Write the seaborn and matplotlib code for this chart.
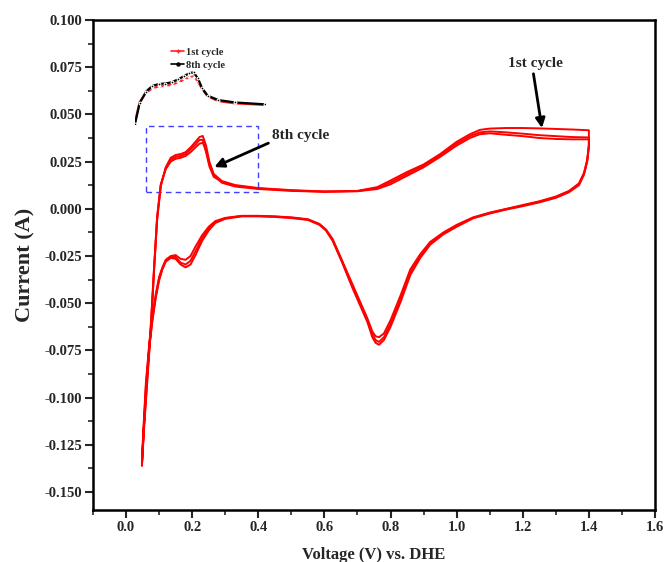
import matplotlib
matplotlib.use("Agg")
import matplotlib.pyplot as plt
import matplotlib.patches as patches
from matplotlib.lines import Line2D
from matplotlib.ticker import MultipleLocator, FormatStrFormatter
import numpy as np
import pandas as pd
import seaborn as sns

# Potential grid of the forward (anodic) sweep, V vs. DHE
anodic_v = [0.048, 0.055, 0.064, 0.076, 0.085, 0.094, 0.105, 0.12, 0.135, 0.15,
            0.165, 0.18, 0.195, 0.21, 0.222, 0.232, 0.242, 0.252, 0.265, 0.29,
            0.33, 0.40, 0.50, 0.60, 0.70, 0.76, 0.80, 0.85, 0.90, 0.95,
            1.00, 1.04, 1.07, 1.10, 1.15, 1.20, 1.25, 1.30, 1.35, 1.40]

# Potential grid of the reverse (cathodic) sweep
cathodic_v = [1.40, 1.395, 1.385, 1.37, 1.34, 1.30, 1.25, 1.20, 1.15, 1.10,
              1.05, 1.00, 0.96, 0.92, 0.89, 0.86, 0.83, 0.80, 0.78, 0.765,
              0.755, 0.745, 0.73, 0.715, 0.70, 0.685, 0.67, 0.655, 0.64, 0.625,
              0.605, 0.585, 0.55, 0.50, 0.45, 0.40, 0.35, 0.30, 0.27, 0.25,
              0.23, 0.21, 0.195, 0.18, 0.165, 0.15, 0.135, 0.12, 0.11, 0.10,
              0.09, 0.08, 0.07, 0.06, 0.052, 0.048]

# Currents (A), cycle 1
c1_anodic = [-0.134, -0.112, -0.089, -0.058, -0.030, -0.004, 0.013, 0.021, 0.025, 0.0265,
             0.027, 0.028, 0.030, 0.0325, 0.0345, 0.035, 0.031, 0.024, 0.018, 0.0138,
             0.0118, 0.0105, 0.0095, 0.009, 0.0095, 0.0115, 0.015, 0.0195, 0.0235, 0.029,
             0.0355, 0.0395, 0.0418, 0.0425, 0.0428, 0.0428, 0.0426, 0.0423, 0.042, 0.0416]
c1_cathodic = [0.034, 0.026, 0.019, 0.0135, 0.0095, 0.0065, 0.004, 0.002, 0.0, -0.002,
               -0.0045, -0.0085, -0.0125, -0.0175, -0.024, -0.032, -0.046, -0.059, -0.066, -0.068,
               -0.0675, -0.065, -0.058, -0.052, -0.046, -0.040, -0.034, -0.028, -0.022, -0.016,
               -0.011, -0.008, -0.0055, -0.0045, -0.004, -0.0037, -0.0037, -0.0048, -0.0065, -0.0095,
               -0.014, -0.020, -0.025, -0.027, -0.0265, -0.0245, -0.025, -0.027, -0.031, -0.036,
               -0.045, -0.057, -0.072, -0.092, -0.118, -0.134]

# Currents (A), cycle 4
c4_anodic = [-0.135, -0.113, -0.090, -0.060, -0.031, -0.005, 0.0125, 0.0215, 0.026, 0.0275,
             0.028, 0.029, 0.0315, 0.034, 0.0365, 0.0365, 0.030, 0.0225, 0.017, 0.0142,
             0.0122, 0.0108, 0.0097, 0.0091, 0.0094, 0.011, 0.014, 0.0185, 0.0228, 0.0283,
             0.0345, 0.0385, 0.0405, 0.041, 0.0405, 0.0398, 0.039, 0.0385, 0.038, 0.0378]
c4_cathodic = [0.0335, 0.0255, 0.0185, 0.013, 0.0092, 0.0062, 0.0037, 0.0017, -0.0002, -0.0022,
               -0.0048, -0.009, -0.013, -0.0182, -0.025, -0.0335, -0.048, -0.061, -0.068, -0.0705,
               -0.0695, -0.0665, -0.059, -0.053, -0.047, -0.041, -0.035, -0.0285, -0.0225, -0.0165,
               -0.0113, -0.0082, -0.0057, -0.0047, -0.0041, -0.0038, -0.0038, -0.005, -0.007, -0.0105,
               -0.0155, -0.0225, -0.0275, -0.0295, -0.0285, -0.0255, -0.0255, -0.0275, -0.0315, -0.037,
               -0.046, -0.058, -0.073, -0.094, -0.120, -0.135]

# Currents (A), cycle 8
c8_anodic = [-0.136, -0.115, -0.092, -0.061, -0.032, -0.006, 0.012, 0.022, 0.027, 0.0285,
             0.029, 0.030, 0.0325, 0.0355, 0.038, 0.0386, 0.0335, 0.025, 0.0185, 0.0147,
             0.0126, 0.011, 0.0099, 0.0092, 0.0093, 0.0105, 0.013, 0.0175, 0.022, 0.0275,
             0.0335, 0.0375, 0.0395, 0.040, 0.0392, 0.0385, 0.0375, 0.037, 0.0368, 0.0368]
c8_cathodic = [0.033, 0.025, 0.018, 0.0125, 0.0088, 0.0058, 0.0034, 0.0014, -0.0004, -0.0025,
               -0.005, -0.0095, -0.0135, -0.019, -0.026, -0.035, -0.0495, -0.0625, -0.0695, -0.072,
               -0.071, -0.068, -0.060, -0.054, -0.048, -0.042, -0.0355, -0.029, -0.023, -0.017,
               -0.0115, -0.0085, -0.0059, -0.0049, -0.0043, -0.004, -0.004, -0.0053, -0.0075, -0.0115,
               -0.017, -0.0245, -0.0295, -0.031, -0.0295, -0.0265, -0.026, -0.028, -0.032, -0.038,
               -0.047, -0.059, -0.074, -0.096, -0.122, -0.136]

cycle_names = ["1st cycle", "4th cycle", "8th cycle"]
cycle_anodic = [c1_anodic, c4_anodic, c8_anodic]
cycle_cathodic = [c1_cathodic, c4_cathodic, c8_cathodic]

x_ticks = [0.0, 0.2, 0.4, 0.6, 0.8, 1.0, 1.2, 1.4, 1.6]
y_ticks = [-0.150, -0.125, -0.100, -0.075, -0.050, -0.025, 0.000, 0.025, 0.050, 0.075, 0.100]

# Long-form table: one closed loop (forward + reverse sweep) per cycle
rows = []
for name, an, ca in zip(cycle_names, cycle_anodic, cycle_cathodic):
    order = 0
    for v, i in zip(anodic_v, an):
        rows.append((name, order, v, i)); order += 1
    for v, i in zip(cathodic_v, ca):
        rows.append((name, order, v, i)); order += 1
cv = pd.DataFrame(rows, columns=["cycle", "step", "voltage", "current"])

sns.set_theme(style="ticks")
plt.rcParams["font.family"] = ["Liberation Serif", "DejaVu Serif"]
plt.rcParams["font.weight"] = "bold"

W, H = 667, 562
fig = plt.figure(figsize=(W / 100, H / 100), dpi=100)
ax = fig.add_axes([93 / W, 1 - 510 / H, (655 - 93) / W, (510 - 20) / H])

sns.lineplot(data=cv, x="voltage", y="current", units="cycle", estimator=None,
             sort=False, color="#ff0000", lw=1.4, ax=ax, legend=False)

ax.set_xlim(-0.1, 1.6)
ax.set_ylim(-0.1595, 0.1)
ax.set_xticks(x_ticks)
ax.set_yticks(y_ticks)
ax.xaxis.set_minor_locator(MultipleLocator(0.1))
ax.yaxis.set_minor_locator(MultipleLocator(0.0125))
ax.xaxis.set_major_formatter(FormatStrFormatter("%.1f"))
ax.yaxis.set_major_formatter(FormatStrFormatter("%.3f"))
ax.tick_params(which="major", direction="out", length=6, width=1.5,
               labelsize=10.5, pad=2, top=False, right=False)
ax.tick_params(which="minor", direction="out", length=3.5, width=1.2,
               top=False, right=False)
for lab in ax.get_xticklabels() + ax.get_yticklabels():
    lab.set_fontweight("bold")
for sp in ax.spines.values():
    sp.set_linewidth(1.8)
    sp.set_color("black")

ax.set_xlabel("Voltage (V) vs. DHE", fontsize=12, fontweight="bold", labelpad=9)
ax.set_ylabel("Current (A)", fontsize=16, fontweight="bold", labelpad=6)

# Dashed box marking the zoomed region shown in the inset
ax.add_patch(patches.Rectangle((0.061, 0.0089), 0.339, 0.035, fill=False,
                               ec="#3f3fff", lw=1.0, ls=(0, (4, 3))))

arrow = dict(arrowstyle="-|>", color="black", lw=2.0, mutation_scale=14,
             shrinkA=0, shrinkB=0)
ax.annotate("8th cycle", xy=(0.267, 0.0221), xytext=(0.527, 0.039),
            fontsize=11, fontweight="bold", ha="center", va="center",
            arrowprops=dict(arrow, relpos=(0.0, 0.0)))
ax.annotate("1st cycle", xy=(1.258, 0.0428), xytext=(1.239, 0.0767),
            fontsize=11, fontweight="bold", ha="center", va="center",
            arrowprops=dict(arrow, relpos=(0.45, 0.0)))

# Inset: forward-sweep hydrogen region, first vs. eighth cycle
ax_in = fig.add_axes([135 / W, 1 - 124 / H, 130 / W, 59 / H])
ax_in.patch.set_alpha(0)
sel = [k for k, v in enumerate(anodic_v) if 0.094 <= v <= 0.40]
inset_v = [anodic_v[k] for k in sel]
sns.lineplot(x=inset_v, y=[c1_anodic[k] for k in sel], color="#ff2020",
             marker="+", markersize=3, mew=1.0, lw=1.6, sort=False, ax=ax_in)
sns.lineplot(x=inset_v, y=[c8_anodic[k] for k in sel], color="black",
             marker="o", markersize=2, lw=1.6, sort=False, ax=ax_in)
ax_in.set_xlim(0.094, 0.40)
ax_in.set_ylim(-0.006, 0.045)
ax_in.axis("off")

handles = [Line2D([], [], color="#ff2020", marker="+", markersize=3.5, lw=1.2),
           Line2D([], [], color="black", marker="o", markersize=2.2, lw=1.2)]
fig.legend(handles, ["1st cycle", "8th cycle"], loc="upper left",
           bbox_to_anchor=(164 / W, 1 - 40 / H), frameon=False,
           prop={"size": 7.5, "weight": "bold"}, handlelength=1.2,
           handletextpad=0.2, labelspacing=0.35, borderpad=0.2)

fig.savefig("out.png", dpi=100, facecolor="white")
